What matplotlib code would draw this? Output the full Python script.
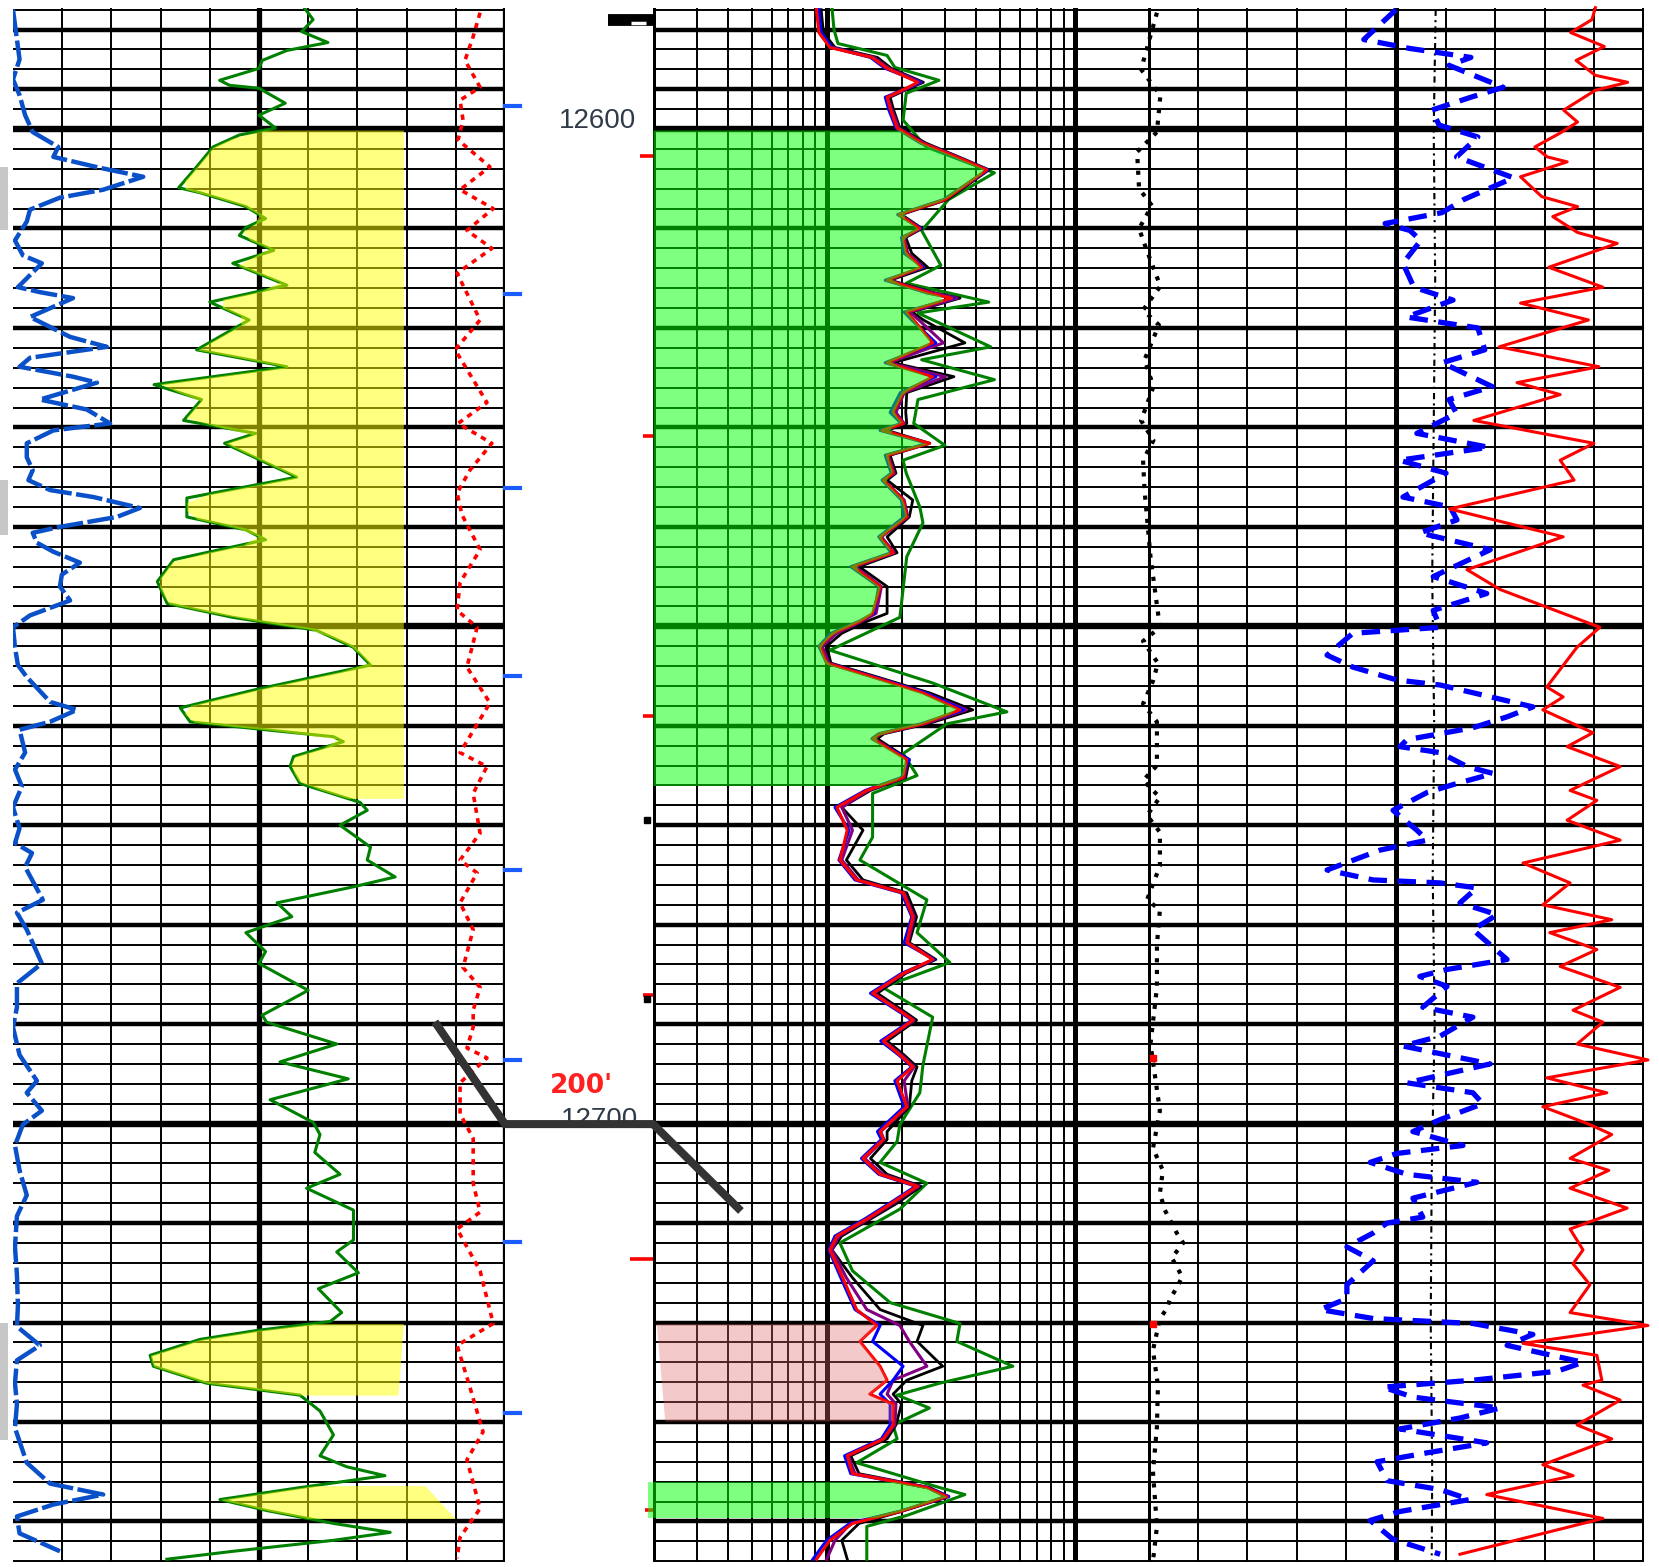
import numpy as np
import matplotlib.pyplot as plt
from matplotlib.lines import Line2D
from matplotlib.patches import Rectangle

plt.rcParams['font.family'] = ['Liberation Sans', 'DejaVu Sans']

# depth window shown (ft)
top_depth, base_depth = 12587.83, 12744.08

# ---------------- track 1 (linear 0-150) ----------------
gr_depth = [12587.9, 12589.0, 12590.2, 12591.3, 12592.1, 12593.1, 12593.9, 12595.1, 12595.6, 12595.9,
            12597.4, 12598.6, 12599.9, 12600.6, 12601.8, 12603.8, 12605.9, 12606.4, 12607.8, 12609.0,
            12609.9, 12610.7, 12612.2, 12613.5, 12615.7, 12617.4, 12619.2, 12622.2, 12623.9, 12625.7,
            12627.2, 12629.3, 12630.6, 12631.6, 12635.0, 12637.1, 12639.0, 12640.3, 12641.3, 12642.3,
            12643.3, 12645.5, 12647.7, 12649.1, 12650.4, 12652.1, 12653.9, 12655.4, 12656.4, 12658.2,
            12659.6, 12660.4, 12661.1, 12661.6, 12663.1, 12664.1, 12665.8, 12667.7, 12668.5, 12670.0,
            12672.2, 12673.5, 12675.2, 12676.2, 12677.8, 12679.2, 12680.8, 12682.7, 12683.9, 12686.6,
            12689.1, 12689.8, 12692.0, 12693.8, 12695.5, 12697.6, 12699.9, 12701.1, 12702.9, 12705.1,
            12706.5, 12708.7, 12711.7, 12712.9, 12715.0, 12716.6, 12719.0, 12719.9, 12720.8, 12721.7,
            12723.3, 12724.4, 12726.1, 12727.3, 12728.9, 12731.3, 12733.4, 12734.5, 12735.4, 12736.6,
            12737.8, 12738.9, 12740.2, 12741.1, 12741.9, 12743.0, 12743.8]
gr_val = [89, 91.5, 88, 96, 83.5, 76, 75, 63, 66, 75,
          83, 75, 80, 69, 61, 56, 50.5, 57, 71, 77,
          71, 69, 79.5, 67, 83.5, 60, 72, 56, 83.5, 43,
          57.5, 52, 74, 64.5, 86.5, 53, 53, 71, 77, 63,
          49, 44, 47, 67, 92.5, 103.7, 109, 87.5, 73.5, 51,
          54, 77, 97.7, 100.7, 85.5, 84.5, 87.5, 105.8, 108, 99.7,
          109, 108, 116.5, 103.7, 80.5, 85, 71, 77, 75, 90,
          76, 77.3, 98.7, 81.4, 102.2, 78.4, 91.6, 93.6, 92, 99.7,
          89.5, 103.8, 103.8, 98.7, 105.3, 93.1, 100.2, 96.7, 74.3, 57,
          41.8, 42.8, 59, 87.5, 93.6, 97.7, 93.6, 101.7, 113.4, 87.5,
          63.1, 77.3, 97.7, 115, 97.7, 67.2, 46.9]

sp_depth = [12588.0, 12593.0, 12595.0, 12596.6, 12598.6, 12600.3, 12601.8, 12602.8, 12603.9, 12604.8,
            12606.1, 12606.9, 12608.1, 12609.3, 12611.2, 12612.7, 12613.5, 12615.9, 12616.4, 12617.0,
            12618.9, 12620.9, 12621.9, 12623.0, 12623.9, 12624.9, 12625.5, 12627.2, 12628.2, 12629.6,
            12630.3, 12631.6, 12633.0, 12634.3, 12635.3, 12636.3, 12637.0, 12638.1, 12639.0, 12639.6,
            12640.0, 12640.6, 12641.6, 12642.5, 12643.6, 12644.8, 12646.0, 12647.4, 12648.9, 12650.1,
            12652.1, 12653.9, 12655.1, 12657.6, 12658.4, 12659.6, 12660.4, 12662.7, 12664.4, 12666.1,
            12668.2, 12670.3, 12671.8, 12672.8, 12674.2, 12677.5, 12678.8, 12680.5, 12683.9, 12685.9,
            12688.3, 12690.3, 12693.1, 12695.7, 12696.9, 12698.7, 12700.1, 12702.2, 12704.7, 12707.2,
            12709.3, 12712.4, 12715.2, 12718.3, 12720.4, 12722.3, 12723.8, 12726.1, 12728.2, 12730.6,
            12734.1, 12736.2, 12737.3, 12738.3, 12739.5, 12741.2, 12743.0]
sp_val = [0, 2, 0, 2, 3.7, 6, 13.8, 12.3, 26.5, 39.7,
          27.5, 14.3, 5.2, 4.2, 0.6, 3, 8.8, 1.5, 8.2, 18.3,
          5.2, 17.4, 28.6, 5.2, 2, 18.3, 25.6, 8.2, 22.5, 29.6,
          12.3, 4.2, 4.2, 6, 4.7, 11.3, 24.5, 38.7, 31.7, 21.3,
          14.3, 6, 7.3, 12.3, 20.4, 14.9, 14.3, 17.4, 5.2, 0,
          0.6, 1.5, 4.2, 11.3, 19.5, 11.3, 2, 3.7, 0.6, 2.7,
          0, 2, 0.6, 5.8, 3.7, 9.1, 1.2, 4.2, 8.8, 1.2,
          1.2, 0, 2, 7.3, 4.2, 8.8, 3, 0.6, 2, 4.2,
          1.2, 0.6, 1.2, 1.5, 1.2, 8.2, 1.2, 0.6, 1.2, 0.6,
          4.2, 11.3, 27.5, 12.3, 1.2, 2, 14.3]

rd_depth = [12588.3, 12590.7, 12593.1, 12595.8, 12597.1, 12599.1, 12601.1, 12603.8, 12606.1, 12608.0,
            12610.2, 12612.0, 12614.5, 12619.2, 12622.2, 12627.5, 12629.6, 12631.6, 12634.3, 12636.6,
            12638.8, 12642.3, 12645.6, 12648.4, 12650.1, 12654.1, 12657.7, 12662.7, 12664.1, 12666.8,
            12670.8, 12673.5, 12674.8, 12677.8, 12680.5, 12684.3, 12686.3, 12688.6, 12690.3, 12692.4,
            12693.4, 12695.9, 12699.0, 12701.5, 12706.0, 12708.9, 12710.6, 12714.8, 12720.1, 12722.3,
            12726.5, 12731.0, 12733.8, 12738.7, 12741.6, 12743.7]
rd_val = [142.4, 140.3, 137.8, 142.4, 136.3, 137.2, 135.7, 145.4, 136.3, 146.4,
          138.4, 146, 135.4, 142.4, 134.8, 144.5, 135.7, 146, 139.3, 135.4,
          136.9, 142.4, 136.3, 135.4, 141.5, 138.4, 145.4, 136.3, 144.5, 140.3,
          142.4, 136.3, 141.5, 136.3, 140.3, 137.2, 142.4, 140.3, 140.3, 138.4,
          144.5, 136.3, 136.3, 140.3, 140.3, 142.4, 135.4, 142.4, 146.4, 135.4,
          139.3, 143.3, 138.4, 142.4, 136.3, 135.4]

# yellow zones on track 1: top, base, right edge at top and base
sand_top = [12600.1, 12720.1, 12736.4]
sand_base = [12667.3, 12727.3, 12739.7]
sand_edge_top = [119, 119, 125.6]
sand_edge_base = [119, 117.4, 134.8]

depth_marks = [12597.7, 12616.6, 12636.1, 12655.0, 12674.5, 12693.6, 12711.9, 12729.1]

# ---------------- track 2 (log 0.2-20 ohm.m) ----------------
res_depth = [12588.0, 12590.3, 12591.8, 12592.8, 12593.9, 12595.3, 12595.9, 12596.8, 12598.1, 12599.9,
             12601.4, 12602.8, 12604.1, 12607.1, 12608.6, 12610.0, 12610.9, 12612.5, 12613.9, 12615.2,
             12616.5, 12617.0, 12618.4, 12619.2, 12621.5, 12623.5, 12624.9, 12626.5, 12628.5, 12629.6,
             12630.3, 12631.6, 12632.8, 12634.6, 12635.3, 12637.3, 12639.0, 12641.0, 12642.6, 12644.0,
             12646.0, 12648.7, 12649.5, 12650.7, 12652.0, 12653.7, 12655.1, 12656.7, 12658.4, 12659.8,
             12660.8, 12661.3, 12663.4, 12665.2, 12666.5, 12668.2, 12670.5, 12673.5, 12675.5, 12676.8,
             12679.2, 12681.8, 12683.5, 12684.9, 12686.9, 12688.9, 12689.6, 12691.7, 12693.1, 12694.3,
             12695.7, 12698.3, 12700.8, 12701.6, 12703.5, 12705.1, 12706.3, 12707.9, 12709.6, 12711.3,
             12712.7, 12715.5, 12718.7, 12720.3, 12721.9, 12724.4, 12725.8, 12727.2, 12728.2, 12730.3,
             12731.7, 12733.4, 12735.2, 12736.6, 12737.5, 12739.0, 12740.2, 12741.9, 12743.8]
red_val = [0.91, 0.93, 1.03, 1.52, 1.75, 2.33, 2.09, 1.75, 1.81, 1.92,
           2.41, 3.31, 4.41, 2.99, 1.95, 2.37, 2.03, 2.09, 2.41, 1.75,
           2.59, 3.19, 2.09, 2.24, 2.67, 1.75, 2.67, 2.03, 1.85, 2.03,
           1.67, 2.59, 1.75, 1.85, 1.69, 2.03, 2.10, 1.64, 1.85, 1.27,
           1.64, 1.53, 1.36, 1.06, 0.94, 1.0, 1.53, 2.44, 3.44, 2.44,
           1.64, 1.53, 2.10, 2.03, 1.45, 1.10, 1.21, 1.13, 1.32, 2.03,
           2.22, 2.10, 2.67, 2.03, 1.53, 2.03, 2.22, 1.69, 1.97, 2.22,
           1.92, 2.10, 1.64, 1.69, 1.40, 1.64, 2.31, 1.85, 1.45, 1.10,
           1.03, 1.16, 1.32, 1.59, 1.36, 1.64, 1.75, 1.49, 1.85, 1.85,
           1.69, 1.21, 1.27, 2.53, 3.05, 1.97, 1.27, 1.03, 0.91]
blue_val = [0.93, 0.95, 1.05, 1.50, 1.72, 2.38, 2.10, 1.72, 1.78, 1.90,
            2.38, 3.25, 4.45, 2.95, 1.93, 2.40, 2.00, 2.05, 2.45, 1.72,
            2.55, 3.25, 2.05, 2.20, 2.75, 1.72, 2.75, 1.98, 1.80, 2.00,
            1.64, 2.55, 1.72, 1.82, 1.67, 2.00, 2.05, 1.62, 1.82, 1.25,
            1.62, 1.55, 1.35, 1.04, 0.93, 1.00, 1.55, 2.50, 3.55, 2.40,
            1.62, 1.52, 2.15, 2.00, 1.43, 1.08, 1.23, 1.12, 1.30, 2.00,
            2.20, 2.05, 2.70, 2.00, 1.50, 2.00, 2.20, 1.65, 1.95, 2.20,
            1.88, 2.05, 1.60, 1.66, 1.38, 1.62, 2.28, 1.82, 1.42, 1.08,
            1.02, 1.14, 1.30, 1.64, 1.53, 2.03, 1.85, 1.64, 1.80, 1.80,
            1.66, 1.18, 1.25, 2.55, 3.10, 1.95, 1.24, 1.00, 0.88]
black_val = [0.95, 0.97, 1.08, 1.60, 1.82, 2.45, 2.15, 1.80, 1.86, 1.97,
             2.50, 3.40, 4.50, 3.05, 2.00, 2.42, 2.08, 2.20, 2.55, 1.80,
             2.75, 3.44, 2.20, 2.45, 3.60, 1.85, 3.25, 2.10, 2.08, 2.10,
             1.75, 2.60, 1.80, 1.90, 1.75, 2.22, 2.15, 1.75, 1.92, 1.35,
             1.75, 1.75, 1.45, 1.15, 1.00, 1.04, 1.60, 2.60, 3.87, 2.55,
             1.70, 1.60, 2.15, 2.08, 1.50, 1.15, 1.40, 1.20, 1.40, 2.10,
             2.30, 2.15, 2.75, 2.08, 1.60, 2.10, 2.30, 1.75, 2.05, 2.31,
             2.20, 2.15, 1.75, 1.75, 1.50, 1.75, 2.40, 1.95, 1.50, 1.15,
             1.05, 1.27, 1.64, 2.44, 2.31, 2.93, 2.10, 1.85, 2.00, 1.90,
             1.75, 1.25, 1.35, 2.60, 3.10, 2.00, 1.35, 1.15, 1.21]
purple_val = [0.92, 0.94, 1.05, 1.55, 1.78, 2.40, 2.12, 1.76, 1.83, 1.95,
              2.45, 3.35, 4.45, 3.00, 1.97, 2.38, 2.05, 2.12, 2.45, 1.76,
              2.70, 3.35, 2.15, 2.35, 2.95, 1.78, 3.00, 2.05, 1.90, 2.05,
              1.70, 2.55, 1.77, 1.87, 1.70, 2.05, 2.12, 1.66, 1.87, 1.30,
              1.66, 1.58, 1.38, 1.10, 0.96, 1.02, 1.55, 2.50, 3.65, 2.48,
              1.66, 1.55, 2.12, 2.05, 1.47, 1.15, 1.27, 1.15, 1.34, 2.05,
              2.25, 2.12, 2.70, 2.05, 1.55, 2.05, 2.25, 1.70, 2.00, 2.25,
              2.05, 2.12, 1.65, 1.70, 1.42, 1.68, 2.35, 1.88, 1.47, 1.12,
              1.05, 1.20, 1.45, 1.97, 2.15, 2.53, 1.85, 1.75, 1.90, 1.88,
              1.70, 1.22, 1.30, 2.55, 3.00, 1.98, 1.25, 1.08, 1.00]

green_depth = [12587.8, 12590.0, 12591.4, 12592.6, 12593.8, 12595.1, 12596.4, 12599.1, 12601.8, 12604.4,
               12607.1, 12610.2, 12613.7, 12615.5, 12617.4, 12618.5, 12621.9, 12623.2, 12625.2, 12627.2,
               12629.6, 12631.8, 12633.3, 12634.6, 12638.0, 12639.6, 12643.0, 12649.1, 12652.4, 12655.7,
               12658.6, 12659.8, 12662.8, 12665.0, 12666.8, 12671.2, 12673.5, 12677.5, 12680.8, 12683.8,
               12686.3, 12689.3, 12694.1, 12696.9, 12700.1, 12701.8, 12703.9, 12706.0, 12708.6, 12712.0,
               12714.8, 12718.0, 12720.1, 12721.9, 12724.4, 12726.1, 12727.3, 12728.6, 12730.3, 12731.7,
               12734.1, 12736.6, 12737.3, 12739.4, 12740.5, 12743.8]
green_val = [1.05, 1.07, 1.11, 1.75, 1.88, 2.83, 2.09, 2.03, 2.51, 4.73,
             3.09, 2.41, 2.88, 2.09, 4.49, 2.33, 4.57, 2.41, 4.73, 2.33,
             2.24, 2.99, 2.03, 2.09, 2.37, 2.44, 2.10, 1.97, 1.03, 2.67,
             5.31, 3.05, 2.03, 2.31, 1.53, 1.53, 1.36, 2.53, 2.31, 3.13,
             1.68, 2.67, 2.44, 2.37, 1.97, 1.92, 1.64, 2.53, 1.97, 1.13,
             1.27, 1.80, 3.44, 3.34, 5.61, 2.85, 1.92, 2.59, 1.85, 1.92,
             1.32, 2.85, 3.60, 2.10, 1.45, 1.45]

# shaded zones on track 2: top, base, left edge at top / base, colour
pay_top = [12600.1, 12720.1, 12736.0]
pay_base = [12666.0, 12729.9, 12739.6]
pay_left_top = [0.2, 0.206, 0.19]
pay_left_base = [0.2, 0.223, 0.19]
pay_color = ['#00ff00', '#e06666', '#00ff00']
pay_alpha = [0.5, 0.35, 0.5]

tick_depths = [12602.7, 12630.9, 12659.0, 12687.1, 12713.6, 12738.9]
tick_start = [0.178, 0.182, 0.182, 0.182, 0.162, 0.185]
blob_depths = [12669.5, 12687.5]

# ---------------- track 3 (linear 0-10) ----------------
cal_depth = [12588.3, 12594.0, 12596.6, 12600.3, 12602.3, 12606.0, 12607.7, 12610.0, 12612.0, 12615.8,
             12618.2, 12619.7, 12623.2, 12625.9, 12629.3, 12631.3, 12633.3, 12636.3, 12643.0, 12650.1,
             12651.5, 12653.7, 12655.5, 12657.8, 12659.6, 12664.0, 12665.5, 12667.2, 12669.0, 12670.7,
             12674.1, 12677.5, 12678.5, 12682.0, 12686.3, 12692.0, 12698.7, 12702.5, 12704.7, 12707.0,
             12708.7, 12711.0, 12712.0, 12713.5, 12715.4, 12716.3, 12717.7, 12718.6, 12719.6, 12722.8,
             12726.3, 12730.5, 12735.0, 12740.5, 12744.0]
cal_val = [0.18, -0.14, 0.25, 0.18, -0.22, -0.18, 0.08, -0.18, -0.04, 0.25,
           -0.10, 0.22, -0.07, 0.11, -0.14, 0.11, -0.10, -0.07, 0.05, 0.24,
           -0.10, 0.20, 0.10, -0.10, 0.18, 0.18, -0.10, 0.24, -0.02, 0.24,
           0.24, -0.02, 0.24, 0.18, 0.18, 0.05, 0.24, 0.10, 0.30, 0.24,
           0.34, 0.58, 0.71, 0.48, 0.69, 0.60, 0.44, 0.38, 0.24, 0.10,
           0.20, 0.18, 0.10, 0.18, 0.10]

nphi_depth = [12588.0, 12591.0, 12591.9, 12592.8, 12593.6, 12595.8, 12596.8, 12598.1, 12599.6, 12600.8,
              12602.8, 12604.9, 12607.1, 12608.4, 12609.5, 12610.2, 12611.2, 12613.5, 12615.9, 12617.2,
              12618.9, 12620.0, 12622.2, 12623.5, 12625.9, 12627.2, 12628.6, 12630.6, 12632.0, 12633.3,
              12634.6, 12637.0, 12638.0, 12639.3, 12640.6, 12642.3, 12645.0, 12646.7, 12648.4, 12650.1,
              12650.7, 12652.9, 12654.1, 12655.4, 12655.9, 12658.1, 12659.1, 12660.2, 12661.4, 12662.1,
              12662.7, 12664.1, 12664.8, 12665.8, 12666.7, 12668.5, 12670.5, 12671.5, 12672.5, 12674.5,
              12675.5, 12675.8, 12676.3, 12677.8, 12679.0, 12680.5, 12683.5, 12684.5, 12685.2, 12686.2,
              12688.3, 12689.3, 12691.2, 12692.2, 12694.0, 12695.9, 12696.9, 12698.0, 12699.6, 12700.8,
              12702.2, 12703.0, 12703.9, 12705.1, 12705.9, 12707.5, 12709.4, 12710.0, 12711.0, 12712.4,
              12713.8, 12716.2, 12717.6, 12718.7, 12719.6, 12720.1, 12721.2, 12722.3, 12724.0, 12724.9,
              12725.8, 12726.5, 12727.5, 12728.6, 12729.6, 12730.7, 12732.1, 12733.1, 12734.0, 12735.9,
              12736.8, 12737.8, 12739.0, 12739.9, 12741.8, 12743.3]
nphi_val = [5.0, 4.35, 5.28, 6.51, 6.07, 7.16, 6.51, 5.72, 5.87, 6.65,
            6.22, 7.37, 6.36, 5.93, 4.78, 5.28, 5.50, 5.14, 5.36, 6.15,
            5.21, 6.65, 6.79, 5.93, 6.94, 6.07, 6.22, 5.42, 6.87, 5.07,
            6.01, 5.14, 6.09, 6.23, 5.48, 6.90, 5.75, 6.83, 5.75, 5.89,
            4.13, 3.61, 4.13, 5.02, 5.89, 7.76, 7.24, 6.55, 5.22, 5.08,
            5.89, 6.43, 6.96, 6.23, 5.63, 4.94, 5.42, 5.63, 4.68, 3.61,
            4.54, 5.89, 6.63, 6.29, 7.04, 6.55, 7.24, 6.03, 5.48, 6.03,
            5.54, 6.55, 5.89, 5.14, 6.90, 5.22, 6.55, 6.75, 5.89, 5.34,
            6.35, 5.02, 4.48, 5.22, 6.63, 5.34, 5.54, 4.82, 4.54, 4.01,
            4.54, 4.01, 4.01, 3.47, 4.54, 6.55, 7.76, 7.24, 8.77, 8.25,
            6.55, 4.74, 5.34, 7.10, 6.29, 5.08, 6.83, 5.63, 4.62, 4.82,
            5.89, 6.49, 5.08, 4.48, 4.94, 5.89]

base_depth_line = [12588, 12600, 12615, 12630, 12645, 12660, 12675, 12690, 12705, 12720, 12735, 12744]
base_val_line = [5.80, 5.76, 5.79, 5.76, 5.73, 5.77, 5.74, 5.78, 5.72, 5.70, 5.73, 5.72]

pe_depth = [12587.8, 12589.0, 12590.3, 12591.7, 12593.1, 12594.6, 12595.3, 12596.1, 12598.1, 12599.3,
            12600.4, 12601.8, 12602.8, 12603.3, 12604.8, 12606.8, 12607.8, 12608.8, 12610.4, 12611.5,
            12613.9, 12615.9, 12617.5, 12619.2, 12621.9, 12623.9, 12625.5, 12626.7, 12629.3, 12631.6,
            12633.3, 12635.3, 12638.2, 12641.0, 12644.3, 12646.3, 12650.1, 12652.1, 12656.1, 12657.1,
            12658.4, 12660.7, 12662.1, 12664.1, 12666.5, 12667.5, 12669.5, 12671.5, 12673.8, 12675.8,
            12678.0, 12679.5, 12680.8, 12682.5, 12684.2, 12686.3, 12688.6, 12689.8, 12692.0, 12693.6,
            12695.4, 12696.9, 12698.3, 12700.1, 12701.1, 12703.5, 12704.7, 12706.5, 12708.5, 12710.6,
            12712.7, 12714.1, 12716.2, 12719.0, 12720.3, 12722.1, 12723.3, 12725.8, 12726.3, 12727.8,
            12730.3, 12731.7, 12734.3, 12735.4, 12737.3, 12739.7, 12743.3]
pe_val = [9.02, 8.95, 8.52, 9.20, 8.63, 9.02, 9.67, 9.02, 8.38, 8.66,
          8.31, 7.80, 8.05, 8.45, 7.51, 7.94, 8.66, 8.16, 8.66, 9.46,
          8.08, 9.17, 7.51, 8.88, 7.08, 9.09, 7.44, 8.31, 6.57, 8.99,
          8.31, 8.59, 6.08, 8.37, 6.43, 7.10, 9.11, 8.65, 8.04, 8.37,
          7.96, 8.97, 8.45, 9.52, 8.51, 9.05, 8.45, 9.52, 7.56, 8.51,
          7.96, 9.35, 8.10, 9.05, 8.31, 9.52, 8.57, 9.17, 8.65, 10.08,
          8.04, 9.25, 7.96, 8.91, 9.35, 8.51, 9.29, 8.51, 9.66, 8.51,
          8.77, 8.57, 8.91, 8.51, 10.08, 7.56, 9.05, 9.15, 8.77, 9.52,
          8.65, 9.35, 7.96, 8.57, 6.83, 9.17, 6.29]

flag_depths = [12693.4, 12720.2]

# fault sketch: track, x value, depth
fault_track = ['gr', 'gr', 'res', 'res']
fault_x = [129.3, 150.0, 0.2, 0.44]
fault_depth = [12690.1, 12700.05, 12700.05, 12708.5]

W, H = 1659, 1567
fig = plt.figure(figsize=(W / 100, H / 100), dpi=100)


def track(x0, x1):
    ax = fig.add_axes([x0 / W, (H - 1562) / H, (x1 - x0) / W, (1562 - 8) / H])
    ax.set_ylim(base_depth, top_depth)
    ax.axis('off')
    return ax


ax_gr = track(13, 505)
ax_res = track(653, 1150)
ax_rt = track(1148, 1644)
ax_gr.set_xlim(0, 150)
ax_res.set_xscale('log')
ax_res.set_xlim(0.2, 20)
ax_rt.set_xlim(0, 10)

# --- grids ---
very_thick = (12600, 12650, 12700)
thick = (12590, 12596) + tuple(range(12610, 12741, 10))
for ax in (ax_gr, ax_res, ax_rt):
    for d in np.arange(12588, 12745, 2):
        lw = 4.6 if d in very_thick else 3.2 if d in thick else 1.4
        ax.axhline(d, color='black', lw=lw, zorder=1)

for v in range(15, 151, 15):
    ax_gr.axvline(v, color='black', lw=3.8 if v in (75, 150) else 1.4, zorder=1)
for v in [0.2, 0.3, 0.4, 0.5, 0.6, 0.7, 0.8, 0.9, 1, 2, 3, 4, 5, 6, 7, 8, 9, 10, 20]:
    ax_res.axvline(v, color='black', lw=3.6 if v in (0.2, 1, 10, 20) else 1.4, zorder=1)
for v in range(0, 11):
    ax_rt.axvline(v, color='black', lw=3.6 if v in (0, 5, 10) else 1.4, zorder=1)

# --- track 1 curves ---
ax_gr.plot(sp_val, sp_depth, color='#0a50c8', lw=3.2, dashes=(6, 1), zorder=3)
ax_gr.plot(rd_val, rd_depth, color='red', lw=2.6, dashes=(1.5, 1.5), zorder=3)
ax_gr.plot(gr_val, gr_depth, color='#008000', lw=2.2, zorder=3)
for t, b, et, eb in zip(sand_top, sand_base, sand_edge_top, sand_edge_base):
    dd = np.linspace(t, b, 80)
    ax_gr.fill_betweenx(dd, np.interp(dd, gr_depth, gr_val), np.linspace(et, eb, 80),
                        color='yellow', alpha=0.5, lw=0, zorder=5)
for d in depth_marks:
    ax_gr.plot([150, 154.6], [d, d], color='#1a5cff', lw=3, clip_on=False, zorder=4)

# --- track 2 curves ---
ax_res.plot(green_val, green_depth, color='#008000', lw=2.2, zorder=2)
ax_res.plot(black_val, res_depth, color='black', lw=2.0, zorder=2)
ax_res.plot(purple_val, res_depth, color='#800080', lw=2.2, zorder=2)
ax_res.plot(blue_val, res_depth, color='blue', lw=2.2, zorder=3)
ax_res.plot(red_val, res_depth, color='red', lw=2.2, zorder=3)
for t, b, lt, lb, c, a in zip(pay_top, pay_base, pay_left_top, pay_left_base, pay_color, pay_alpha):
    dd = np.linspace(t, b, 120)
    right = 10 ** np.interp(dd, res_depth, np.log10(red_val))
    left = 10 ** np.linspace(np.log10(lt), np.log10(lb), 120)
    ax_res.fill_betweenx(dd, left, right, color=c, alpha=a, lw=0, zorder=5, clip_on=False)
for d, s in zip(tick_depths, tick_start):
    ax_res.plot([s, 0.2], [d, d], color='red', lw=2.6, clip_on=False, zorder=4, solid_capstyle='butt')
ax_res.plot([0.132, 0.2], [12589.0, 12589.0], color='black', lw=8.5, clip_on=False,
            solid_capstyle='butt', zorder=4)
ax_res.plot([0.163, 0.187], [12589.3, 12589.3], color='white', lw=2.5, clip_on=False,
            solid_capstyle='butt', zorder=4)
ax_res.plot([0.19] * len(blob_depths), blob_depths, 's', color='black', ms=5,
            clip_on=False, zorder=4)

ax_res.text(0.12, 12599.85, '12600', ha='center', va='baseline', fontsize=20,
            color='#303a48', clip_on=False)
ax_res.text(0.122, 12700.35, '12700', ha='center', va='baseline', fontsize=20,
            color='#303a48', clip_on=False)
ax_res.text(0.103, 12696.9, "200'", ha='center', va='baseline', fontsize=19,
            color='#ff2020', fontweight='bold', family='DejaVu Sans', clip_on=False)

# --- track 3 curves ---
ax_rt.plot(cal_val, cal_depth, color='black', lw=3.0, dashes=(1, 1.8), clip_on=False, zorder=3)
ax_rt.plot(base_val_line, base_depth_line, color='black', lw=1.5, dashes=(3, 2, 1, 2), zorder=2)
ax_rt.plot(nphi_val, nphi_depth, color='blue', lw=3.8, dashes=(3.5, 2), zorder=3)
ax_rt.plot(pe_val, pe_depth, color='red', lw=2.2, clip_on=False, zorder=3)
ax_rt.plot([0.1] * len(flag_depths), flag_depths, 's', color='red', ms=5, zorder=4)

# --- fault sketch across tracks ---
axes_by_name = {'gr': ax_gr, 'res': ax_res}
pts = [axes_by_name[t].transData.transform((x, d)) for t, x, d in zip(fault_track, fault_x, fault_depth)]
pts = fig.transFigure.inverted().transform(np.array(pts))
fig.add_artist(Line2D(pts[:, 0], pts[:, 1], color='#333333', lw=5.8, zorder=10,
                      solid_joinstyle='miter', transform=fig.transFigure))

# screenshot shadows on the left margin
for t, b in [(12603.8, 12610.2), (12635.3, 12640.8), (12720.05, 12731.8)]:
    ax_gr.add_patch(Rectangle((-13 / 492, b), 8 / 492, t - b, color='#9a9a9a', alpha=0.55,
                              transform=ax_gr.get_yaxis_transform(), clip_on=False, lw=0))

fig.savefig('out.png', dpi=100)
